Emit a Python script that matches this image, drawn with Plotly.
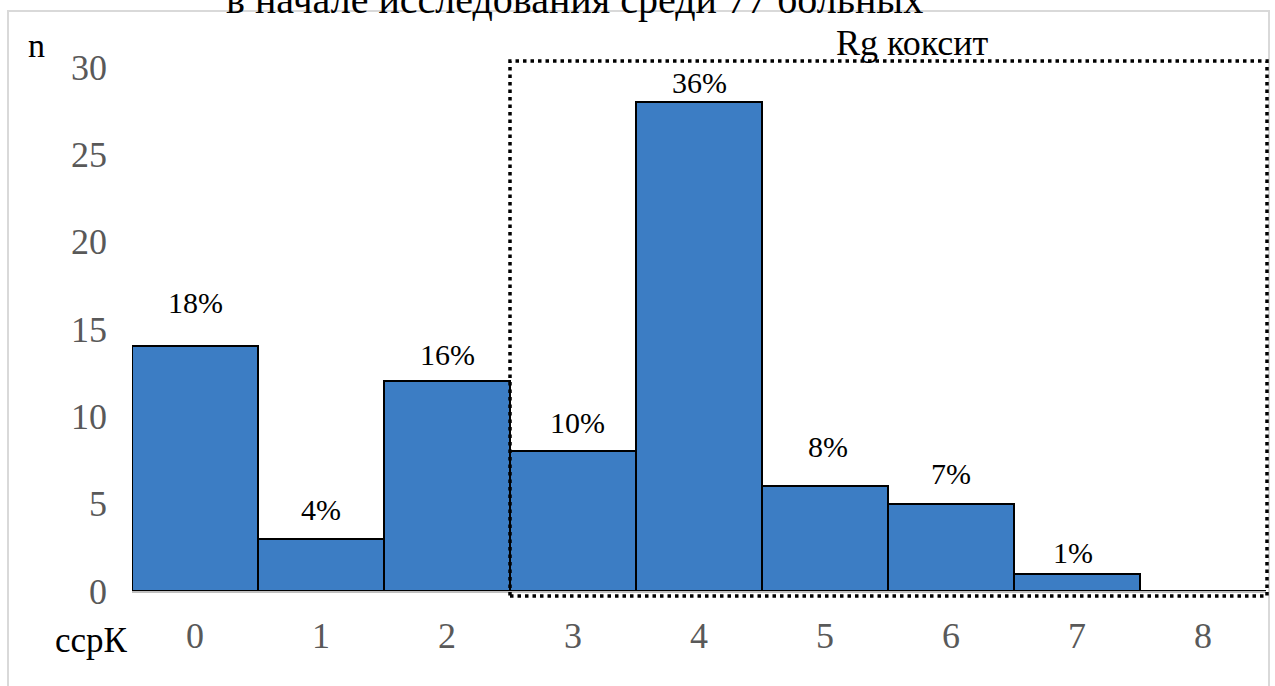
import plotly.graph_objects as go

# Distribution of patients by ccpK score
categories = [0, 1, 2, 3, 4, 5, 6, 7, 8]
counts = [14, 3, 12, 8, 28, 6, 5, 1, 0]
pct_labels = ["18%", "4%", "16%", "10%", "36%", "8%", "7%", "1%", ""]
y_ticks = [0, 5, 10, 15, 20, 25, 30]
title_text = "в начале исследования среди 77 больных"
box_text = "Rg коксит"

# manual placement of the percentage labels above each bar (pixels)
label_dy = [44, 29, 27, 29, 19, 40, 30, 21, 0]
label_dx = [0, 0, 0, 4, 0, 3, 0, -4, 0]

W, H = 1275, 686
L, R, T, B = 132, 9, 67, 95
pw, ph = W - L - R, H - T - B


def px_x(p):
    return (p - L) / pw


def px_y(p):
    return (H - B - p) / ph


serif = "Liberation Serif"

fig = go.Figure()
fig.add_trace(go.Bar(
    x=categories,
    y=counts,
    width=1.0,
    marker=dict(color="#3C7DC4", line=dict(color="#000000", width=2)),
    hoverinfo="x+y",
))

annotations = []
for i, (c, v, lab) in enumerate(zip(categories, counts, pct_labels)):
    if not lab:
        continue
    annotations.append(dict(
        x=c, y=v, xref="x", yref="y", text=lab, showarrow=False,
        xshift=label_dx[i], yshift=label_dy[i], yanchor="middle",
        font=dict(family=serif, size=30, color="#000000"),
    ))

annotations += [
    dict(x=px_x(36), y=px_y(45), xref="paper", yref="paper", text="n",
         showarrow=False, xanchor="center", yanchor="middle",
         font=dict(family=serif, size=34, color="#000000")),
    dict(x=px_x(91), y=px_y(640), xref="paper", yref="paper", text="ссрК",
         showarrow=False, xanchor="center", yanchor="middle",
         font=dict(family=serif, size=35, color="#000000")),
    dict(x=px_x(912), y=px_y(43), xref="paper", yref="paper", text=box_text,
         showarrow=False, xanchor="center", yanchor="middle",
         font=dict(family=serif, size=36, color="#000000")),
    dict(x=px_x(574), y=px_y(24), xref="paper", yref="paper", text=title_text,
         showarrow=False, xanchor="center", yanchor="bottom",
         font=dict(family=serif, size=40, color="#000000")),
]

shapes = [
    # outer chart frame
    dict(type="rect", xref="paper", yref="paper",
         x0=px_x(8), x1=px_x(1269), y0=px_y(11), y1=px_y(720),
         line=dict(color="#d9d9d9", width=2), fillcolor="rgba(0,0,0,0)",
         layer="below"),
    # dotted region marking Rg coxitis
    dict(type="rect", xref="paper", yref="paper",
         x0=(2.5 + 0.5) / 9, x1=px_x(1267), y0=px_y(596), y1=px_y(61),
         line=dict(color="#000000", width=3.5, dash="3.5px,4px"),
         fillcolor="rgba(0,0,0,0)", layer="above"),
]

fig.update_layout(
    width=W, height=H,
    margin=dict(l=L, r=R, t=T, b=B, pad=0),
    paper_bgcolor="#ffffff", plot_bgcolor="#ffffff",
    showlegend=False,
    bargap=0,
    annotations=annotations,
    shapes=shapes,
    xaxis=dict(
        range=[-0.5, 8.5], tickmode="array", tickvals=categories,
        ticktext=[str(c) for c in categories],
        showgrid=False, zeroline=False, showline=True,
        linecolor="#bfbfbf", linewidth=2, ticks="",
        ticklabelstandoff=12,
        tickfont=dict(family=serif, size=36, color="#595959"),
        fixedrange=True,
    ),
    yaxis=dict(
        range=[0, 30], tickmode="array", tickvals=y_ticks,
        showgrid=False, zeroline=False, showline=False, ticks="",
        ticklabelstandoff=24,
        tickfont=dict(family=serif, size=36, color="#595959"),
        fixedrange=True,
    ),
)

fig.write_html("out.html")
